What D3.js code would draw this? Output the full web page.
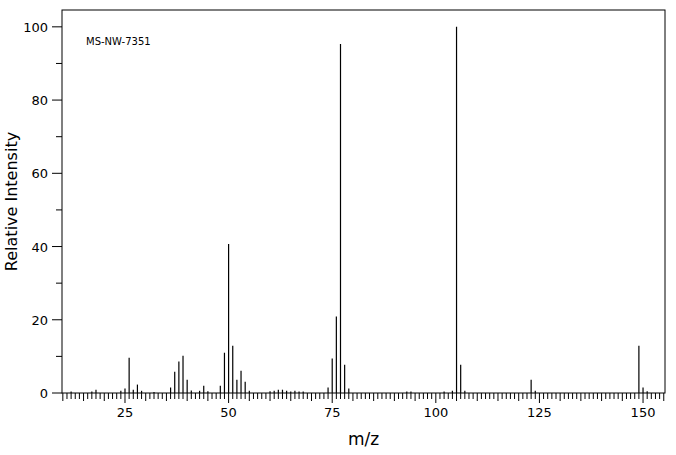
<!DOCTYPE html><html><head><meta charset="utf-8">
<script src="https://cdn.jsdelivr.net/npm/d3@7"></script>
<style>body{margin:0;background:#fff}text{font-family:"DejaVu Sans",sans-serif}</style></head><body>
<svg id="c" width="676" height="455"></svg>
<script>
const mz =        [12,17,18,24,25,26,27,28,29,32,36,37,38,39,40,41,43,44,45,48,49,50,51,52,53,54,55,60,61,62,63,64,65,66,67,68,74,75,76,77,78,79,93,94,102,104,105,106,107,123,124,149,150,151];
const intensity = [0.4,0.4,0.9,0.6,1.2,9.6,0.9,2.3,0.6,0.3,1.5,5.8,8.6,10.2,3.6,0.7,0.6,2.0,0.5,2.0,11,40.7,12.9,3.6,6.1,3.1,0.6,0.5,0.6,0.9,0.9,0.6,0.4,0.6,0.4,0.4,1.5,9.4,20.9,95.3,7.7,1.2,0.4,0.4,0.4,0.6,100,7.7,0.6,3.6,0.6,12.9,1.5,0.5];
const xTicks = [25,50,75,100,125,150];
const yTicks = [0,20,40,60,80,100];
const label = "MS-NW-7351";

const svg = d3.select("#c");
const L=62,R=665,T=10,B=393;
const x = d3.scaleLinear().domain([9.8,155.3]).range([L,R]);
const y = d3.scaleLinear().domain([0,104.6]).range([B,T]);
svg.append("rect").attr("x",L).attr("y",T).attr("width",R-L).attr("height",B-T).attr("fill","none").attr("stroke","#000");
// x ticks
const xg = svg.append("g").attr("transform",`translate(0,${B})`);
for(let m=10;m<=155;m++){
  const len = m%25===0?10:(m%5===0?8:6);
  xg.append("line").attr("x1",x(m)).attr("x2",x(m)).attr("y1",0).attr("y2",len).attr("stroke","#000");
}
xg.selectAll("text").data(xTicks).join("text").attr("x",d=>x(d)).attr("y",24).attr("text-anchor","middle").attr("font-size",13).text(d=>d);
const yg = svg.append("g");
for(let v=0;v<=100;v+=10){
  const len = v%20===0?10:6;
  yg.append("line").attr("x1",L-len).attr("x2",L).attr("y1",y(v)).attr("y2",y(v)).attr("stroke","#000");
}
yg.selectAll("text").data(yTicks).join("text").attr("x",L-14).attr("y",d=>y(d)+5).attr("text-anchor","end").attr("font-size",13).text(d=>d);
svg.selectAll(".bar").data(mz.map((m,i)=>[m,intensity[i]])).join("line")
  .attr("x1",d=>x(d[0])).attr("x2",d=>x(d[0])).attr("y1",B).attr("y2",d=>y(d[1])).attr("stroke","#000").attr("stroke-width",1.2);
svg.append("text").attr("x",86).attr("y",45).attr("font-size",10).attr("font-family","DejaVu Sans Mono").text(label);
svg.append("text").attr("x",(L+R)/2).attr("y",445).attr("text-anchor","middle").attr("font-size",17).text("m/z");
svg.append("text").attr("transform",`translate(17,${(T+B)/2}) rotate(-90)`).attr("text-anchor","middle").attr("font-size",16).text("Relative Intensity");
</script></body></html>
